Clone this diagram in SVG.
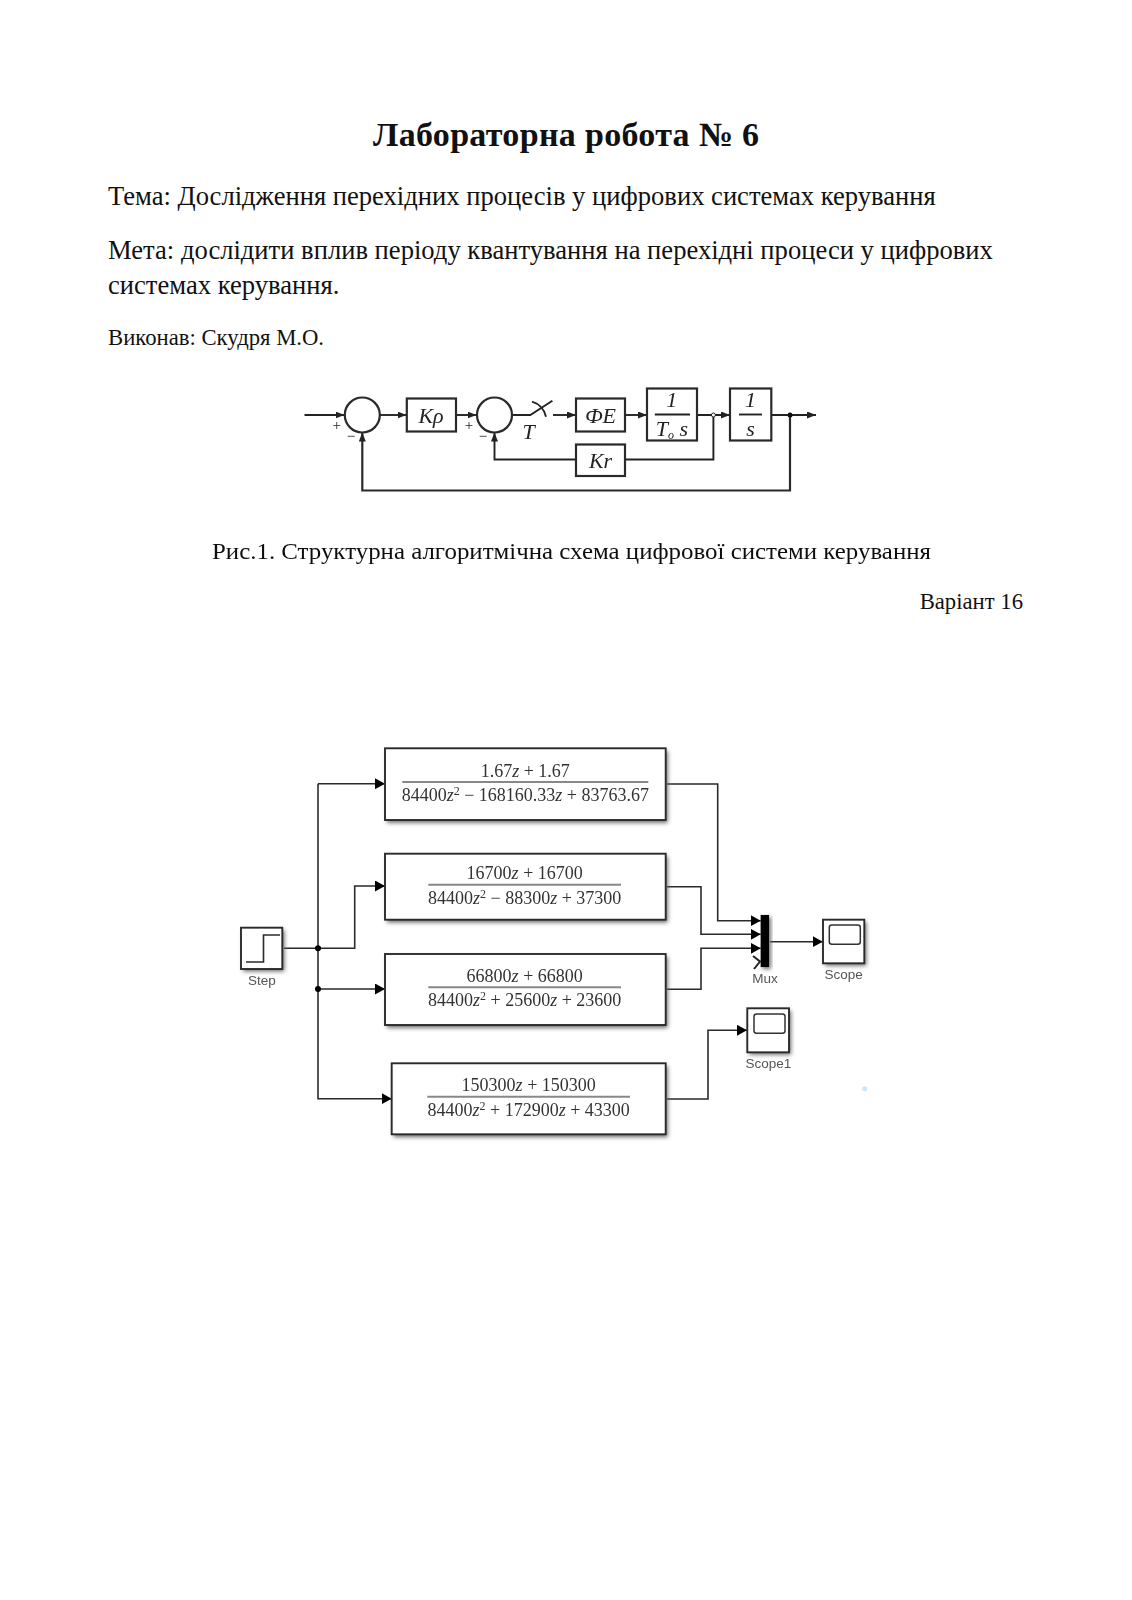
<svg xmlns="http://www.w3.org/2000/svg" width="1132" height="1600" viewBox="0 0 1132 1600">
<style>
text{font-family:"Liberation Serif","Times New Roman",serif;fill:#111}
.body{font-size:26.6px}
.small{font-size:22.7px}
.frac{font-size:18px;fill:#333;text-anchor:middle}
.frac tspan.i{font-style:italic}
.frac tspan.s{font-size:12px}
.sl{font-family:"Liberation Sans",Arial,sans-serif;font-size:13.5px;fill:#555;text-anchor:middle}
.blk{fill:#fff;stroke:#2a2a2a;stroke-width:1.9}
.shd{fill:#666;filter:url(#sb)}
.w{fill:none;stroke:#2a2a2a;stroke-width:1.6}
.bar{stroke:#888;stroke-width:2}
.o{fill:none;stroke:#222;stroke-width:1.9}
.bx{fill:none;stroke:#2a2a2a;stroke-width:2.2}
.hw{font-style:italic;font-size:22px;fill:#222;text-anchor:middle}
.pm{font-size:15px;text-anchor:middle;fill:#222}
</style>
<defs>
<filter id="sb" x="-20%" y="-20%" width="140%" height="140%"><feGaussianBlur stdDeviation="2"/></filter>
<filter id="soft" x="-5%" y="-5%" width="110%" height="110%"><feGaussianBlur stdDeviation="0.45"/></filter>
<filter id="soft2" x="-5%" y="-5%" width="110%" height="110%"><feGaussianBlur stdDeviation="0.6"/></filter>
<marker id="ah" markerWidth="10" markerHeight="11" refX="10" refY="5.5" orient="auto" markerUnits="userSpaceOnUse"><path d="M0 0L10 5.500L0 11Z" fill="#000"/></marker>
<marker id="ao" markerWidth="9" markerHeight="7" refX="9" refY="3.5" orient="auto" markerUnits="userSpaceOnUse"><path d="M0 0L9 3.500L0 7Z" fill="#222"/></marker>
</defs>
<rect width="1132" height="1600" fill="#fff"/>

<g id="heading">
<text x="373" y="146" font-size="34" font-weight="bold" textLength="386" lengthAdjust="spacing">Лабораторна робота № 6</text>
<text class="body" x="108" y="205">Тема: Дослідження перехідних процесів у цифрових системах керування</text>
<text class="body" x="108" y="259">Мета: дослідити вплив періоду квантування на перехідні процеси у цифрових</text>
<text class="body" x="108" y="294">системах керування.</text>
<text class="small" x="108" y="345">Виконав: Скудря М.О.</text>
<text class="small" x="1023" y="609" text-anchor="end">Варіант 16</text>
</g>

<g id="fig1" filter="url(#soft2)">
<g id="fig1-connectors">
<path class="o" d="M304.500 415H344.500" marker-end="url(#ao)"/>
<path class="o" d="M380 415H406.500" marker-end="url(#ao)"/>
<path class="o" d="M456 415H476.500" marker-end="url(#ao)"/>
<path class="o" d="M512 415H530.300L552.400 400.700"/>
<path class="o" d="M532 401.700Q543 405 546 416.700"/>
<path class="o" d="M553 415H576" marker-end="url(#ao)"/>
<path class="o" d="M625 415H647" marker-end="url(#ao)"/>
<path class="o" d="M697 415H730" marker-end="url(#ao)"/>
<path class="o" d="M771.500 415H816" marker-end="url(#ao)"/>
<path class="o" d="M625 459.500H713.400V415"/>
<path class="o" d="M576 459.500H494.500V432.500" marker-end="url(#ao)"/>
<path class="bx" d="M790 415V490.500H362.300V432.500" marker-end="url(#ao)"/>
<circle cx="713.400" cy="415" r="2" fill="#fff" stroke="#222"/>
<circle cx="790" cy="415" r="2.500" fill="#111"/>
</g>
<g id="sum1"><circle class="bx" cx="362.300" cy="415" r="17.500"/><text class="pm" x="336.700" y="430">+</text><text class="pm" x="351" y="441">−</text></g>
<g id="kp"><rect class="bx" x="406.800" y="398.500" width="49.200" height="33"/><text class="hw" x="431" y="423">Kρ</text></g>
<g id="sum2"><circle class="bx" cx="494.500" cy="415" r="17.500"/><text class="pm" x="469" y="430">+</text><text class="pm" x="483" y="441">−</text></g>
<g id="sampler"><text class="hw" x="528.500" y="439">T</text></g>
<g id="fe"><rect class="bx" x="576" y="398.500" width="49" height="33"/><text class="hw" x="600.500" y="423">ФE</text></g>
<g id="to"><rect class="bx" x="647" y="388.500" width="50" height="52"/><text class="hw" x="671.700" y="407">1</text><path class="o" stroke-width="1" d="M654.800 414.500H690"/><text class="hw" x="672" y="436" font-size="19">T<tspan font-size="12" dy="3">o</tspan><tspan dy="-3">  s</tspan></text></g>
<g id="int"><rect class="bx" x="730" y="388.500" width="41.300" height="52"/><text class="hw" x="750.600" y="407">1</text><path class="o" stroke-width="1" d="M739 414.500H762"/><text class="hw" x="750.600" y="436" font-size="20">s</text></g>
<g id="kr"><rect class="bx" x="576" y="444.500" width="49" height="31.500"/><text class="hw" x="600.500" y="468">Kr</text></g>
</g>
<text id="fig1-caption" filter="url(#soft)" x="212" y="559" font-size="22.5" fill="#333" textLength="719" lengthAdjust="spacingAndGlyphs">Рис.1. Структурна алгоритмічна схема цифрової системи керування</text>

<g id="simulink" filter="url(#soft)">
<g id="connectors">
<path class="w" d="M284 948.300H354.700V886H385" marker-end="url(#ah)"/>
<path class="w" d="M318 783.700V1098.700H391.700" marker-end="url(#ah)"/>
<path class="w" d="M318 783.700H385" marker-end="url(#ah)"/>
<path class="w" d="M318 989H385" marker-end="url(#ah)"/>
<circle cx="318" cy="948.300" r="3" fill="#000"/>
<circle cx="318" cy="989" r="3" fill="#000"/>
<path class="w" d="M667 784H717.700V920.700H760.700" marker-end="url(#ah)"/>
<path class="w" d="M667 886.700H701V934.300H760.700" marker-end="url(#ah)"/>
<path class="w" d="M667 989.300H701V948.300H760.700" marker-end="url(#ah)"/>
<path class="w" d="M770 941.700H822.700" marker-end="url(#ah)"/>
<path class="w" d="M667 1099H708V1030.300H747" marker-end="url(#ah)"/>
<path fill="none" stroke="#222" stroke-width="2" d="M753 956L760 961.500L754 969"/>
</g>
<g id="step"><rect class="shd" x="243" y="930" width="41.300" height="41.300"/><rect class="blk" x="241" y="927.700" width="41.300" height="41.300"/><path class="w" d="M246 962H263.500V935H280"/><text class="sl" x="262" y="985">Step</text></g>
<g id="tf1"><rect class="shd" x="387" y="751" width="280.700" height="71.700"/><rect class="blk" x="385" y="748.300" width="280.700" height="71.700"/><path class="bar" d="M402.300 782H648.300"/><text class="frac" x="525.300" y="776.700">1.67<tspan class="i">z</tspan> + 1.67</text><text class="frac" x="525.300" y="801.300">84400<tspan class="i">z</tspan><tspan class="s" dy="-6">2</tspan><tspan dy="6"> − 168160.33</tspan><tspan class="i">z</tspan> + 83763.67</text></g>
<g id="tf2"><rect class="shd" x="387" y="856.400" width="280.700" height="66"/><rect class="blk" x="385" y="853.700" width="280.700" height="66"/><path class="bar" d="M428.300 884.700H621"/><text class="frac" x="524.700" y="879">16700<tspan class="i">z</tspan> + 16700</text><text class="frac" x="524.700" y="903.700">84400<tspan class="i">z</tspan><tspan class="s" dy="-6">2</tspan><tspan dy="6"> − 88300</tspan><tspan class="i">z</tspan> + 37300</text></g>
<g id="tf3"><rect class="shd" x="387" y="956.700" width="280.700" height="71"/><rect class="blk" x="385" y="954" width="280.700" height="71"/><path class="bar" d="M428.300 987.300H621"/><text class="frac" x="524.700" y="981.700">66800<tspan class="i">z</tspan> + 66800</text><text class="frac" x="524.700" y="1006.300">84400<tspan class="i">z</tspan><tspan class="s" dy="-6">2</tspan><tspan dy="6"> + 25600</tspan><tspan class="i">z</tspan> + 23600</text></g>
<g id="tf4"><rect class="shd" x="393.700" y="1066" width="274" height="71"/><rect class="blk" x="391.700" y="1063.300" width="274" height="71"/><path class="bar" d="M427.300 1096.700H630"/><text class="frac" x="528.700" y="1091.300">150300<tspan class="i">z</tspan> + 150300</text><text class="frac" x="528.700" y="1116">84400<tspan class="i">z</tspan><tspan class="s" dy="-6">2</tspan><tspan dy="6"> + 172900</tspan><tspan class="i">z</tspan> + 43300</text></g>
<g id="mux"><rect class="shd" x="762.500" y="917" width="8.300" height="52"/><rect x="760.700" y="915" width="8.300" height="52" fill="#000"/><text class="sl" x="765" y="983">Mux</text></g>
<g id="scope"><rect class="shd" x="825" y="922" width="41.300" height="43.600"/><rect class="blk" x="823" y="919.700" width="41.300" height="43.600"/><rect x="829.300" y="925" width="31" height="19.300" rx="2.500" fill="none" stroke="#333" stroke-width="1.500"/><text class="sl" x="843.700" y="979">Scope</text></g>
<g id="scope1"><rect class="shd" x="749.300" y="1010.600" width="41.700" height="44"/><rect class="blk" x="747.300" y="1008.300" width="41.700" height="44"/><rect x="754" y="1014" width="31" height="19.300" rx="2.500" fill="none" stroke="#333" stroke-width="1.500"/><text class="sl" x="768.300" y="1068">Scope1</text></g>
<circle cx="864.700" cy="1088.700" r="2.500" fill="#cfe6fa"/>
</g>
</svg>
